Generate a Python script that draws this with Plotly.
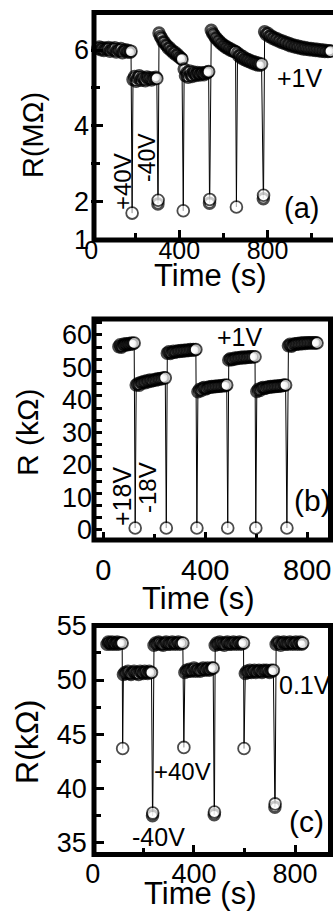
import plotly.graph_objects as go

W, H = 333, 915
FONT = "Liberation Sans, Arial, sans-serif"

# ---------------- panel (a): R (MOhm) vs time (s) ----------------
a_time = [
    30, 37, 44, 51, 58, 65, 72, 79, 86, 93, 100, 107, 114, 121, 128, 135, 142, 149, 156, 163, 170, 177, 181,
    186,
    190, 197, 204, 211, 218, 225, 232, 239, 246, 253, 260, 267, 274, 281, 288, 294, 298,
    303, 304,
    308, 314, 320, 326, 332, 338, 344, 350, 356, 362, 368, 374, 380, 386, 392, 398, 404, 409, 412,
    418,
    422, 428, 434, 440, 446, 452, 458, 464, 470, 476, 482, 488, 494, 500, 506, 512, 518, 524, 529, 533,
    537, 538,
    545, 551, 557, 563, 569, 575, 581, 587, 593, 599, 605, 611, 617, 623, 629, 635, 641, 647, 652, 655,
    659,
    664, 670, 676, 682, 688, 694, 700, 706, 712, 718, 724, 730, 736, 742, 748, 754, 760, 766, 773,
    781, 782,
    787, 794, 801, 808, 815, 822, 829, 836, 843, 850, 857, 864, 871, 878, 885, 892, 899, 906, 913, 920,
    927, 934, 941, 948, 955, 962, 969, 976, 983, 990, 997, 1004, 1011, 1018, 1025, 1032, 1039, 1046,
    1053, 1060, 1067, 1074, 1081, 1086,
]
a_res = [
    6.04, 6.08, 6.01, 6.06, 5.99, 6.05, 6.02, 6.07, 5.97, 6.04, 6.00, 6.06, 5.95, 6.02, 5.98, 6.04, 5.93,
    5.99, 6.01, 5.95, 5.99, 5.94, 5.97,
    1.70,
    5.22, 5.30, 5.18, 5.27, 5.32, 5.20, 5.28, 5.24, 5.19, 5.29, 5.23, 5.27, 5.21, 5.26, 5.24, 5.28, 5.25,
    1.94, 2.04,
    6.45, 6.36, 6.31, 6.22, 6.21, 6.14, 6.12, 6.05, 6.06, 5.99, 5.99, 5.92, 5.94, 5.87, 5.88, 5.82, 5.81,
    5.77, 5.76,
    1.76,
    5.50, 5.32, 5.40, 5.28, 5.45, 5.35, 5.30, 5.42, 5.36, 5.33, 5.41, 5.37, 5.34, 5.40, 5.38, 5.35, 5.41,
    5.39, 5.42, 5.43,
    1.96, 2.06,
    6.52, 6.44, 6.40, 6.33, 6.31, 6.25, 6.24, 6.18, 6.17, 6.12, 6.12, 6.07, 6.08, 6.03, 6.04, 5.99, 6.00,
    5.96, 5.97, 5.95,
    1.86,
    5.92, 5.84, 5.87, 5.79, 5.83, 5.75, 5.78, 5.72, 5.75, 5.69, 5.72, 5.66, 5.69, 5.63, 5.67, 5.61, 5.65,
    5.60, 5.63,
    2.08, 2.17,
    6.48, 6.41, 6.44, 6.36, 6.38, 6.31, 6.33, 6.27, 6.30, 6.24, 6.26, 6.20, 6.23, 6.17, 6.20, 6.14, 6.17,
    6.11, 6.14, 6.09, 6.12, 6.07, 6.10, 6.05, 6.08, 6.03, 6.07, 6.02, 6.05, 6.01, 6.04, 6.00, 6.03, 5.99,
    6.02, 5.98, 6.01, 5.97, 6.00, 5.96, 5.99, 5.96, 5.98, 5.97,
]

# ---------------- panel (b): R (kOhm) vs time (s) ----------------
b_time = [
    61, 66, 71, 76, 81, 86, 91, 96, 101, 106, 111, 116, 121,
    125,
    129, 135, 141, 147, 153, 159, 165, 171, 177, 183, 189, 195, 201, 207, 213, 219, 225, 231, 237, 243,
    247,
    251, 257, 263, 269, 275, 281, 287, 293, 299, 305, 311, 317, 323, 329, 335, 341, 347, 353, 358, 363,
    367,
    371, 377, 383, 389, 395, 401, 407, 413, 419, 425, 431, 437, 443, 449, 455, 461, 467, 473, 479, 484,
    488,
    492, 498, 504, 510, 516, 522, 528, 534, 540, 546, 552, 558, 564, 570, 576, 582, 588, 595,
    598,
    602, 608, 614, 620, 626, 632, 638, 644, 650, 656, 662, 668, 674, 680, 686, 692, 698, 704, 710, 715,
    720,
    726, 732, 738, 744, 750, 756, 762, 768, 774, 780, 786, 792, 798, 804, 810, 816, 822, 828, 833, 838,
]
b_res = [
    56.4, 57.0, 56.2, 56.7, 57.2, 56.9, 57.3, 57.0, 57.4, 57.1, 57.5, 57.3, 57.5,
    0.6,
    44.6, 45.0, 44.5, 45.4, 45.2, 45.7, 45.3, 45.9, 45.6, 46.1, 45.8, 46.0, 46.3, 46.1, 46.5, 46.4, 46.6,
    46.5, 46.8, 46.8,
    0.6,
    54.4, 54.8, 54.3, 54.6, 55.0, 54.7, 54.8, 55.1, 54.9, 55.2, 55.0, 55.3, 55.1, 55.4, 55.2, 55.5, 55.3,
    55.5, 55.4, 55.5,
    0.6,
    42.5, 43.2, 42.8, 43.6, 43.8, 43.4, 43.6, 44.0, 43.9, 44.1, 44.0, 44.2, 44.1, 44.3, 44.2, 44.4, 44.3,
    44.5, 44.4, 44.6,
    0.6,
    52.3, 52.7, 52.4, 52.5, 52.9, 52.7, 53.0, 52.8, 53.1, 52.9, 53.2, 53.0, 53.2, 53.1, 53.3, 53.2, 53.3,
    53.3,
    0.6,
    42.6, 43.3, 42.9, 43.6, 43.8, 43.5, 43.7, 44.0, 43.9, 44.1, 44.0, 44.2, 44.1, 44.3, 44.2, 44.4, 44.3,
    44.5, 44.5, 44.6,
    0.6,
    56.7, 57.1, 56.5, 56.9, 57.3, 57.1, 57.4, 57.2, 57.5, 57.3, 57.6, 57.4, 57.6, 57.5, 57.6, 57.5, 57.6,
    57.5, 57.6, 57.5,
]

# ---------------- panel (c): R (kOhm) vs time (s) ----------------
c_time = [
    56, 61, 66, 71, 76, 81, 86, 91, 96, 101, 106, 111, 116,
    118,
    121, 127, 133, 139, 145, 151, 157, 163, 169, 175, 181, 187, 193, 199, 205, 211, 217, 223, 228, 232,
    236, 237,
    242, 248, 254, 260, 266, 272, 278, 284, 290, 296, 302, 308, 314, 320, 326, 332, 338, 344, 350, 356,
    360,
    364, 370, 376, 382, 388, 394, 400, 406, 412, 418, 424, 430, 436, 442, 448, 454, 460, 466, 471, 476,
    480, 481,
    484, 490, 496, 502, 508, 514, 520, 526, 532, 538, 544, 550, 556, 562, 568, 574, 580, 586, 591, 596,
    598,
    603, 609, 615, 621, 627, 633, 639, 645, 651, 657, 663, 669, 675, 681, 687, 693, 699, 705, 710, 714,
    720, 721,
    725, 731, 737, 743, 749, 755, 761, 767, 773, 779, 785, 791, 797, 803, 809, 815, 821, 826, 830,
]
c_res = [
    53.3, 53.5, 53.4, 53.3, 53.5, 53.4, 53.3, 53.4, 53.5, 53.3, 53.4, 53.4, 53.4,
    43.7,
    50.5, 50.7, 50.6, 50.8, 50.6, 50.5, 50.7, 50.8, 50.6, 50.7, 50.5, 50.8, 50.7, 50.6, 50.8, 50.7, 50.6,
    50.8, 50.7, 50.7,
    37.5, 37.75,
    53.2, 53.4, 53.3, 53.5, 53.4, 53.3, 53.2, 53.4, 53.5, 53.3, 53.4, 53.3, 53.5, 53.4, 53.3, 53.4, 53.5,
    53.3, 53.4, 53.4,
    43.8,
    50.7, 50.9, 50.8, 51.0, 50.8, 50.9, 51.1, 50.8, 51.0, 50.9, 50.8, 51.0, 51.1, 50.9, 51.0, 51.1, 50.9,
    51.0, 51.1, 51.1,
    37.6, 37.85,
    53.2, 53.4, 53.3, 53.5, 53.3, 53.4, 53.2, 53.4, 53.5, 53.3, 53.4, 53.3, 53.5, 53.4, 53.3, 53.4, 53.5,
    53.3, 53.4, 53.4,
    43.7,
    50.6, 50.8, 50.7, 50.9, 50.7, 50.8, 50.9, 50.7, 50.8, 50.9, 50.8, 50.7, 50.9, 50.8, 50.9, 50.8, 50.7,
    50.9, 50.8, 50.9,
    38.3, 38.6,
    53.3, 53.5, 53.4, 53.2, 53.4, 53.5, 53.3, 53.4, 53.3, 53.5, 53.4, 53.3, 53.4, 53.5, 53.3, 53.4, 53.5,
    53.3, 53.4,
]

# tick labels
a_xticks, a_xtext = [0, 400, 800], ["0", "400", "800"]
a_yticks, a_ytext = [1, 2, 4, 6], ["1", "2", "4", "6"]
b_xticks, b_xtext = [0, 400, 800], ["0", "400", "800"]
b_yticks, b_ytext = [0.01, 10, 20, 30, 40, 50, 59.99], ["0", "10", "20", "30", "40", "50", "60"]
c_xticks, c_xtext = [0, 400, 800], ["0", "400", "800"]
c_yticks, c_ytext = [35, 40, 45, 50, 55], ["35", "40", "45", "50", "55"]


def px(x):
    return x / W


def py(y):
    return 1 - y / H


def marker_style(res, jump):
    """Overlapped points inside a run get a heavy outline (they read as a dark smear);
    the last point before a jump, and the final point, stay as open circles."""
    sizes, widths = [], []
    for i in range(len(res)):
        last = i == len(res) - 1 or abs(res[i + 1] - res[i]) > jump
        sizes.append(11.8 if last else 10.5)
        widths.append(1.8 if last else 3.0)
    return sizes, widths


fig = go.Figure()
for xs, ys, xa, ya, jump in [(a_time, a_res, "x", "y", 1.0),
                             (b_time, b_res, "x2", "y2", 5.0),
                             (c_time, c_res, "x3", "y3", 2.0)]:
    sizes, widths = marker_style(ys, jump)
    fig.add_trace(go.Scatter(
        x=xs, y=ys, xaxis=xa, yaxis=ya, mode="lines+markers",
        line=dict(color="black", width=1),
        marker=dict(symbol="circle", size=sizes, color="white", line=dict(color="black", width=widths)),
        showlegend=False,
    ))


def xax(domain, rng, tv, tt, fs, major_len, minor_len, anchor, standoff):
    return dict(
        domain=domain, range=rng, anchor=anchor, automargin=False,
        showgrid=False, zeroline=False, showline=False,
        tickmode="array", tickvals=tv, ticktext=tt, ticks="inside", ticklen=major_len, tickwidth=3,
        tickcolor="black", tickfont=dict(family=FONT, size=fs, color="black"),
        ticklabelstandoff=standoff,
        minor=dict(tick0=0, dtick=200, ticks="inside", ticklen=minor_len, tickwidth=3,
                   tickcolor="black", showgrid=False),
    )


def yax(domain, rng, tv, tt, fs, major_len, minor_len, mdt, anchor, standoff):
    return dict(
        domain=domain, range=rng, anchor=anchor, automargin=False,
        showgrid=False, zeroline=False, showline=False,
        tickmode="array", tickvals=tv, ticktext=tt, ticks="inside", ticklen=major_len, tickwidth=3,
        tickcolor="black", tickfont=dict(family=FONT, size=fs, color="black"),
        ticklabelstandoff=standoff,
        minor=dict(tick0=0, dtick=mdt, ticks="inside", ticklen=minor_len, tickwidth=3,
                   tickcolor="black", showgrid=False),
    )


layout = dict(
    template="none",
    width=W, height=H, autosize=False, margin=dict(l=0, r=0, t=0, b=0, pad=0),
    paper_bgcolor="white", plot_bgcolor="white", showlegend=False,
    font=dict(family=FONT, color="black"),
    xaxis=xax([px(91), 1.0], [-0.5, 1097], a_xticks, a_xtext, 25, 10, 7, "y", -7),
    yaxis=yax([py(240), py(12.5)], [0.99, 6.99], a_yticks, a_ytext, 27, 12, 9, 1, "x", 1),
    xaxis2=xax([px(94), px(330.5)], [-36.5, 891], b_xticks, b_xtext, 29, 8, 6, "y2", 10),
    yaxis2=yax([py(540), py(319)], [-3.08, 64.9], b_yticks, b_ytext, 27, 0, 8, 3.75, "x2", 1),
    xaxis3=xax([px(92.7), px(330.5)], [-0.5, 940], c_xticks, c_xtext, 27, 10, 7, "y3", 0),
    yaxis3=yax([py(854.5), py(625.5)], [33.94, 55.02], c_yticks, c_ytext, 27, 11, 8, 2.5, "x3", 5),
)
fig.update_layout(**layout)

# frames
for x0, x1, y0, y1 in [(94, 336, 240, 12.5), (94, 330.5, 540, 319), (94, 330.5, 854.5, 625.5)]:
    fig.add_shape(type="rect", xref="paper", yref="paper", x0=px(x0), x1=px(x1), y0=py(y0), y1=py(y1),
                  line=dict(color="black", width=5), fillcolor="rgba(0,0,0,0)", layer="above")


def note(text, x, y, size, angle=0):
    fig.add_annotation(text=text, x=px(x), y=py(y), xref="paper", yref="paper", showarrow=False,
                       xanchor="center", yanchor="middle", textangle=angle,
                       font=dict(family=FONT, size=size, color="black"))


# panel (a)
note("R(MΩ)", 33, 135, 29, -90)
note("Time (s)", 210, 275, 31)
note("+1V", 300, 78, 25)
note("+40V", 122, 182, 24, -90)
note("-40V", 147, 158, 23, -90)
note("(a)", 301, 208, 29)
# panel (b)
note("R (kΩ)", 27, 433, 30, -90)
note("Time (s)", 198, 598, 31)
note("+1V", 240, 337, 25)
note("+18V", 122, 497, 25, -90)
note("-18V", 147, 488, 24, -90)
note("(b)", 312, 500, 30)
# panel (c)
note("R(kΩ)", 27, 742, 32, -90)
note("Time (s)", 200, 893, 31)
note("0.1V", 305, 685, 25)
note("+40V", 182, 771, 24)
note("-40V", 158, 837, 25)
note("(c)", 306, 821, 30)

fig.write_html(
    "out.html",
    config={"responsive": False, "displayModeBar": False},
    post_script="document.body.style.margin='0px';document.body.style.overflow='hidden';",
)
